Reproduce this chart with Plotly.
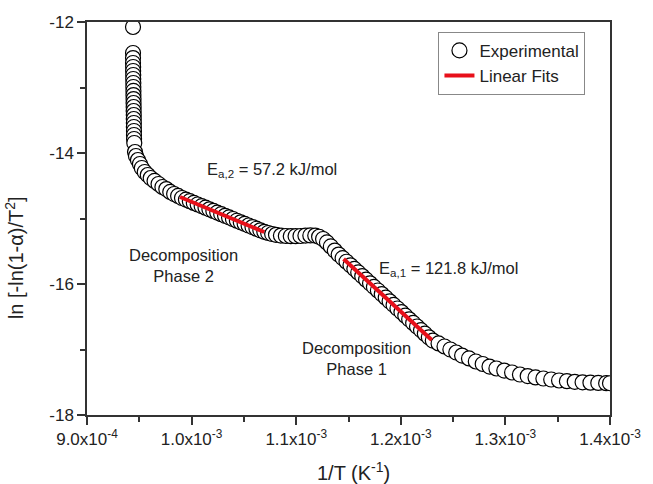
import numpy as np
import plotly.graph_objects as go

# ---- data (x in units of 1e-3 K^-1) ----
exp_x_milli = [
    0.9440, 0.9440, 0.9440, 0.9440, 0.9441, 0.9441, 0.9442, 0.9442, 0.9443, 0.9443,
    0.9444, 0.9444, 0.9445, 0.9445, 0.9446, 0.9446, 0.9447, 0.9447, 0.9448, 0.9448,
    0.9449, 0.9449, 0.9450, 0.9452,
    0.9459, 0.9468, 0.9487, 0.9506, 0.9524, 0.9552, 0.9581, 0.9609, 0.9646, 0.9684,
    0.9721, 0.9758, 0.9796, 0.9833, 0.9871,
    0.9908, 0.9946, 0.9983, 1.0021, 1.0058, 1.0096, 1.0133, 1.0170, 1.0208, 1.0245,
    1.0283, 1.0320, 1.0358, 1.0395, 1.0433, 1.0470, 1.0507, 1.0545, 1.0582, 1.0620,
    1.0657, 1.0695,
    1.0732, 1.0770, 1.0807, 1.0854, 1.0901, 1.0948, 1.0994, 1.1041, 1.1088, 1.1135,
    1.1182, 1.1219, 1.1257, 1.1294, 1.1331, 1.1369, 1.1406,
    1.1444, 1.1481, 1.1519, 1.1556, 1.1593, 1.1631, 1.1668, 1.1706, 1.1743, 1.1781,
    1.1818, 1.1856, 1.1893, 1.1931, 1.1968, 1.2006, 1.2043, 1.2080, 1.2118, 1.2155,
    1.2193, 1.2230, 1.2268, 1.2306,
    1.2361, 1.2418, 1.2474, 1.2530, 1.2586, 1.2652, 1.2717, 1.2783, 1.2848, 1.2914,
    1.2989, 1.3064, 1.3139, 1.3213, 1.3288, 1.3363, 1.3438, 1.3513, 1.3588, 1.3663,
    1.3738, 1.3813, 1.3888, 1.3963, 1.4000,
]
exp_y = [
    -12.076, -12.473, -12.550, -12.626, -12.687, -12.748, -12.809, -12.870, -12.931, -12.992,
    -13.053, -13.115, -13.176, -13.237, -13.298, -13.359, -13.420, -13.481, -13.542, -13.603,
    -13.664, -13.725, -13.786, -13.847,
    -13.985, -14.046, -14.107, -14.168, -14.229, -14.290, -14.336, -14.382, -14.427, -14.473,
    -14.519, -14.550, -14.595, -14.626, -14.656,
    -14.687, -14.712, -14.736, -14.762, -14.786, -14.811, -14.835, -14.860, -14.885, -14.910,
    -14.934, -14.959, -14.983, -15.008, -15.034, -15.058, -15.082, -15.107, -15.131, -15.156,
    -15.180, -15.203,
    -15.221, -15.237, -15.249, -15.260, -15.267, -15.270, -15.270, -15.267, -15.261, -15.258,
    -15.261, -15.279, -15.313, -15.366, -15.427, -15.489, -15.550,
    -15.605, -15.660, -15.715, -15.769, -15.824, -15.879, -15.934, -15.989, -16.044, -16.099,
    -16.154, -16.209, -16.264, -16.319, -16.374, -16.429, -16.484, -16.539, -16.594, -16.649,
    -16.704, -16.759, -16.814, -16.864,
    -16.908, -16.954, -17.000, -17.046, -17.092, -17.137, -17.183, -17.221, -17.260, -17.290,
    -17.321, -17.351, -17.382, -17.405, -17.427, -17.443, -17.458, -17.473, -17.484, -17.493,
    -17.501, -17.507, -17.511, -17.514, -17.515,
]
# linear fits (phase 2 then phase 1), None separates segments
fit_x_milli = [0.9889, 1.0695, None, 1.1453, 1.2296]
fit_y = [-14.672, -15.206, None, -15.618, -16.855]

xtick_vals_milli = [0.9, 1.0, 1.1, 1.2, 1.3, 1.4]
xtick_text = ["9.0x10<sup>-4</sup>", "1.0x10<sup>-3</sup>", "1.1x10<sup>-3</sup>",
              "1.2x10<sup>-3</sup>", "1.3x10<sup>-3</sup>", "1.4x10<sup>-3</sup>"]
ytick_vals = [-18, -16, -14, -12]
ytick_text = ["-18", "-16", "-14", "-12"]

FONT = "Arial, Liberation Sans, sans-serif"
TXT = "#222222"

exp_x = [v * 1e-3 for v in exp_x_milli]
fit_x = [None if v is None else v * 1e-3 for v in fit_x_milli]
xtick_vals = [v * 1e-3 for v in xtick_vals_milli]

fig = go.Figure()
fig.add_trace(go.Scatter(
    x=exp_x, y=exp_y, mode="markers", name="Experimental",
    marker=dict(symbol="circle", size=15, color="white",
                line=dict(color="black", width=1.2)),
))
fig.add_trace(go.Scatter(
    x=fit_x, y=fit_y, mode="lines", name="Linear Fits",
    line=dict(color="#e8101a", width=4),
))

fig.update_xaxes(
    range=[0.9e-3, 1.4e-3], tickvals=xtick_vals, ticktext=xtick_text,
    ticks="outside", ticklen=8, tickwidth=1.5, tickcolor="#333",
    minor=dict(ticks="outside", ticklen=5, tickwidth=1.5, tickcolor="#333",
               tickvals=[0.95e-3, 1.05e-3, 1.15e-3, 1.25e-3, 1.35e-3]),
    showline=True, linecolor="#333", linewidth=1.5, mirror=True,
    showgrid=False, zeroline=False,
    tickfont=dict(family=FONT, size=17, color=TXT),
)
fig.update_yaxes(
    range=[-18, -12], tickvals=ytick_vals, ticktext=ytick_text,
    ticks="outside", ticklen=8, tickwidth=1.5, tickcolor="#333",
    minor=dict(ticks="outside", ticklen=5, tickwidth=1.5, tickcolor="#333",
               tickvals=[-17, -15, -13]),
    showline=True, linecolor="#333", linewidth=1.5, mirror=True,
    showgrid=False, zeroline=False,
    tickfont=dict(family=FONT, size=17, color=TXT),
)

ann_font = dict(family=FONT, size=16.5, color=TXT)
annotations = [
    dict(x=1.0124e-3, y=-14.26, text="E<sub>a,2</sub> = 57.2 kJ/mol",
         xanchor="left", yanchor="middle", showarrow=False, font=ann_font),
    dict(x=0.9927e-3, y=-15.72, text="Decomposition<br>Phase 2",
         xanchor="center", yanchor="middle", showarrow=False, font=ann_font),
    dict(x=1.1772e-3, y=-15.771, text="E<sub>a,1</sub> = 121.8 kJ/mol",
         xanchor="left", yanchor="middle", showarrow=False, font=ann_font),
    dict(x=1.1575e-3, y=-17.137, text="Decomposition<br>Phase 1",
         xanchor="center", yanchor="middle", showarrow=False, font=ann_font),
    dict(x=0.51, y=-0.145, xref="paper", yref="paper", text="1/T (K<sup>-1</sup>)",
         xanchor="center", yanchor="middle", showarrow=False,
         font=dict(family=FONT, size=20, color=TXT)),
    dict(x=-0.139, y=0.40, xref="paper", yref="paper", textangle=-90,
         text="ln [-ln(1-α)/T<sup>2</sup>]",
         xanchor="center", yanchor="middle", showarrow=False,
         font=dict(family=FONT, size=20, color=TXT)),
]

fig.update_layout(
    width=653, height=484,
    margin=dict(l=87, r=32, t=22, b=69),
    plot_bgcolor="white", paper_bgcolor="white",
    showlegend=True,
    legend=dict(x=0.672, y=0.975, xanchor="left", yanchor="top",
                bordercolor="#888", borderwidth=1, bgcolor="white",
                font=dict(family=FONT, size=17, color=TXT),
                tracegroupgap=0, itemsizing="trace"),
    annotations=annotations,
)

fig.write_html("out.html")
